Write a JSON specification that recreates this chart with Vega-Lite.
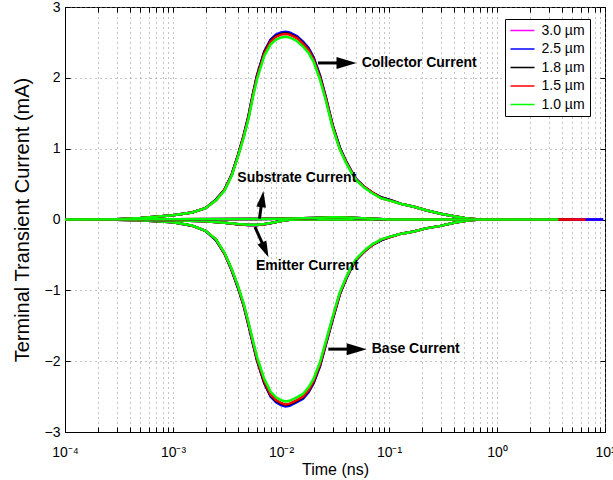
{
  "$schema": "https://vega.github.io/schema/vega-lite/v6.json",
  "width": 540,
  "height": 425,
  "autosize": {"type": "none"},
  "padding": {"left": 65, "top": 7, "right": 8, "bottom": 48},
  "config": {
    "font": "Liberation Sans",
    "view": {"stroke": "#000", "strokeWidth": 1},
    "axis": {
      "domainColor": "#000", "tickColor": "#000", "labelColor": "#000", "titleColor": "#000",
      "labelFont": "Liberation Sans", "titleFont": "Liberation Sans",
      "labelFontSize": 14, "titleFontSize": 16, "titleFontWeight": "normal",
      "gridColor": "#888", "gridDash": [1, 4], "gridWidth": 1, "gridOpacity": 1,
      "tickSize": -5, "labelFlush": false, "labelOverlap": false, "labelBound": false
    }
  },
  "datasets": {
    "curves": [
      {"c":"C","t":0.0001,"a":0,"b":0,"k":0,"r":0,"g":0},
      {"c":"C","t":0.0003,"a":0.005,"b":0.005,"k":0.005,"r":0.005,"g":0.005},
      {"c":"C","t":0.0005,"a":0.02,"b":0.02,"k":0.02,"r":0.02,"g":0.02},
      {"c":"C","t":0.001,"a":0.06,"b":0.06,"k":0.06,"r":0.06,"g":0.06},
      {"c":"C","t":0.0015,"a":0.10,"b":0.10,"k":0.10,"r":0.10,"g":0.10},
      {"c":"C","t":0.002,"a":0.16,"b":0.16,"k":0.16,"r":0.16,"g":0.16},
      {"c":"C","t":0.0025,"a":0.28,"b":0.28,"k":0.28,"r":0.27,"g":0.27},
      {"c":"C","t":0.003,"a":0.42,"b":0.42,"k":0.42,"r":0.42,"g":0.41},
      {"c":"C","t":0.0035,"a":0.64,"b":0.64,"k":0.63,"r":0.63,"g":0.62},
      {"c":"C","t":0.004,"a":0.91,"b":0.91,"k":0.91,"r":0.90,"g":0.89},
      {"c":"C","t":0.0045,"a":1.18,"b":1.18,"k":1.17,"r":1.17,"g":1.15},
      {"c":"C","t":0.005,"a":1.46,"b":1.46,"k":1.45,"r":1.44,"g":1.42},
      {"c":"C","t":0.0055,"a":1.77,"b":1.78,"k":1.76,"r":1.76,"g":1.73},
      {"c":"C","t":0.006,"a":2.03,"b":2.04,"k":2.02,"r":2.01,"g":1.98},
      {"c":"C","t":0.007,"a":2.37,"b":2.37,"k":2.36,"r":2.34,"g":2.31},
      {"c":"C","t":0.008,"a":2.53,"b":2.54,"k":2.52,"r":2.51,"g":2.47},
      {"c":"C","t":0.009,"a":2.60,"b":2.61,"k":2.59,"r":2.58,"g":2.54},
      {"c":"C","t":0.01,"a":2.63,"b":2.64,"k":2.62,"r":2.61,"g":2.57},
      {"c":"C","t":0.011,"a":2.64,"b":2.65,"k":2.63,"r":2.62,"g":2.58},
      {"c":"C","t":0.012,"a":2.63,"b":2.64,"k":2.62,"r":2.61,"g":2.57},
      {"c":"C","t":0.014,"a":2.58,"b":2.59,"k":2.57,"r":2.56,"g":2.52},
      {"c":"C","t":0.016,"a":2.50,"b":2.51,"k":2.49,"r":2.48,"g":2.44},
      {"c":"C","t":0.018,"a":2.41,"b":2.42,"k":2.40,"r":2.39,"g":2.35},
      {"c":"C","t":0.02,"a":2.29,"b":2.29,"k":2.27,"r":2.26,"g":2.23},
      {"c":"C","t":0.023,"a":2.02,"b":2.03,"k":2.01,"r":2.00,"g":1.97},
      {"c":"C","t":0.026,"a":1.72,"b":1.73,"k":1.71,"r":1.71,"g":1.68},
      {"c":"C","t":0.03,"a":1.33,"b":1.34,"k":1.33,"r":1.32,"g":1.30},
      {"c":"C","t":0.035,"a":1.01,"b":1.02,"k":1.01,"r":1.00,"g":0.99},
      {"c":"C","t":0.04,"a":0.82,"b":0.82,"k":0.82,"r":0.81,"g":0.80},
      {"c":"C","t":0.045,"a":0.68,"b":0.68,"k":0.67,"r":0.67,"g":0.66},
      {"c":"C","t":0.05,"a":0.56,"b":0.57,"k":0.56,"r":0.56,"g":0.55},
      {"c":"C","t":0.06,"a":0.45,"b":0.45,"k":0.45,"r":0.45,"g":0.44},
      {"c":"C","t":0.07,"a":0.38,"b":0.38,"k":0.38,"r":0.38,"g":0.37},
      {"c":"C","t":0.085,"a":0.31,"b":0.31,"k":0.31,"r":0.30,"g":0.30},
      {"c":"C","t":0.1,"a":0.28,"b":0.28,"k":0.28,"r":0.27,"g":0.27},
      {"c":"C","t":0.13,"a":0.22,"b":0.22,"k":0.22,"r":0.22,"g":0.22},
      {"c":"C","t":0.17,"a":0.18,"b":0.18,"k":0.18,"r":0.18,"g":0.18},
      {"c":"C","t":0.22,"a":0.13,"b":0.13,"k":0.13,"r":0.13,"g":0.13},
      {"c":"C","t":0.3,"a":0.08,"b":0.08,"k":0.08,"r":0.08,"g":0.08},
      {"c":"C","t":0.4,"a":0.045,"b":0.045,"k":0.045,"r":0.045,"g":0.045},
      {"c":"C","t":0.5,"a":0.02,"b":0.02,"k":0.02,"r":0.02,"g":0.02},
      {"c":"C","t":0.6,"a":0.008,"b":0.008,"k":0.008,"r":0.008,"g":0.008},
      {"c":"C","t":0.7,"a":0,"b":0,"k":0,"r":0,"g":0},
      {"c":"C","t":3.7,"a":0,"b":0,"k":0,"r":0,"g":0},
      {"c":"C","t":5,"a":0,"b":0,"k":0,"r":0,"g":null},
      {"c":"C","t":6.6,"a":0,"b":0,"k":null,"r":0,"g":null},
      {"c":"C","t":9.5,"a":0,"b":0,"k":null,"r":null,"g":null},
      {"c":"C","t":9.6,"a":null,"b":0,"k":null,"r":null,"g":null},

      {"c":"B","t":0.0001,"a":0,"b":0,"k":0,"r":0,"g":0},
      {"c":"B","t":0.0003,"a":-0.005,"b":-0.005,"k":-0.005,"r":-0.005,"g":-0.005},
      {"c":"B","t":0.0005,"a":-0.01,"b":-0.01,"k":-0.01,"r":-0.01,"g":-0.01},
      {"c":"B","t":0.001,"a":-0.04,"b":-0.04,"k":-0.04,"r":-0.04,"g":-0.04},
      {"c":"B","t":0.0015,"a":-0.087,"b":-0.087,"k":-0.087,"r":-0.086,"g":-0.085},
      {"c":"B","t":0.002,"a":-0.16,"b":-0.16,"k":-0.16,"r":-0.16,"g":-0.16},
      {"c":"B","t":0.0025,"a":-0.29,"b":-0.29,"k":-0.29,"r":-0.28,"g":-0.28},
      {"c":"B","t":0.003,"a":-0.48,"b":-0.48,"k":-0.48,"r":-0.48,"g":-0.47},
      {"c":"B","t":0.0035,"a":-0.72,"b":-0.72,"k":-0.71,"r":-0.71,"g":-0.70},
      {"c":"B","t":0.004,"a":-0.96,"b":-0.97,"k":-0.96,"r":-0.95,"g":-0.94},
      {"c":"B","t":0.0045,"a":-1.21,"b":-1.21,"k":-1.20,"r":-1.20,"g":-1.18},
      {"c":"B","t":0.005,"a":-1.49,"b":-1.49,"k":-1.48,"r":-1.47,"g":-1.45},
      {"c":"B","t":0.0055,"a":-1.75,"b":-1.76,"k":-1.74,"r":-1.74,"g":-1.71},
      {"c":"B","t":0.006,"a":-1.99,"b":-1.99,"k":-1.98,"r":-1.97,"g":-1.94},
      {"c":"B","t":0.007,"a":-2.31,"b":-2.31,"k":-2.30,"r":-2.28,"g":-2.25},
      {"c":"B","t":0.008,"a":-2.49,"b":-2.50,"k":-2.48,"r":-2.47,"g":-2.43},
      {"c":"B","t":0.009,"a":-2.57,"b":-2.58,"k":-2.56,"r":-2.55,"g":-2.51},
      {"c":"B","t":0.01,"a":-2.61,"b":-2.62,"k":-2.60,"r":-2.59,"g":-2.55},
      {"c":"B","t":0.011,"a":-2.63,"b":-2.64,"k":-2.62,"r":-2.61,"g":-2.57},
      {"c":"B","t":0.012,"a":-2.62,"b":-2.63,"k":-2.61,"r":-2.60,"g":-2.56},
      {"c":"B","t":0.014,"a":-2.57,"b":-2.58,"k":-2.56,"r":-2.55,"g":-2.51},
      {"c":"B","t":0.016,"a":-2.52,"b":-2.53,"k":-2.51,"r":-2.50,"g":-2.46},
      {"c":"B","t":0.018,"a":-2.43,"b":-2.44,"k":-2.42,"r":-2.41,"g":-2.37},
      {"c":"B","t":0.02,"a":-2.31,"b":-2.31,"k":-2.30,"r":-2.28,"g":-2.25},
      {"c":"B","t":0.023,"a":-2.06,"b":-2.07,"k":-2.05,"r":-2.04,"g":-2.01},
      {"c":"B","t":0.026,"a":-1.76,"b":-1.77,"k":-1.75,"r":-1.75,"g":-1.72},
      {"c":"B","t":0.03,"a":-1.41,"b":-1.42,"k":-1.41,"r":-1.40,"g":-1.38},
      {"c":"B","t":0.035,"a":-1.06,"b":-1.06,"k":-1.05,"r":-1.05,"g":-1.03},
      {"c":"B","t":0.04,"a":-0.84,"b":-0.84,"k":-0.84,"r":-0.83,"g":-0.82},
      {"c":"B","t":0.045,"a":-0.68,"b":-0.68,"k":-0.67,"r":-0.67,"g":-0.66},
      {"c":"B","t":0.05,"a":-0.56,"b":-0.57,"k":-0.56,"r":-0.56,"g":-0.55},
      {"c":"B","t":0.06,"a":-0.44,"b":-0.44,"k":-0.44,"r":-0.44,"g":-0.43},
      {"c":"B","t":0.07,"a":-0.36,"b":-0.36,"k":-0.36,"r":-0.36,"g":-0.35},
      {"c":"B","t":0.085,"a":-0.29,"b":-0.29,"k":-0.29,"r":-0.28,"g":-0.28},
      {"c":"B","t":0.1,"a":-0.25,"b":-0.25,"k":-0.25,"r":-0.25,"g":-0.245},
      {"c":"B","t":0.13,"a":-0.20,"b":-0.20,"k":-0.20,"r":-0.20,"g":-0.20},
      {"c":"B","t":0.17,"a":-0.17,"b":-0.17,"k":-0.17,"r":-0.17,"g":-0.17},
      {"c":"B","t":0.22,"a":-0.125,"b":-0.125,"k":-0.125,"r":-0.125,"g":-0.125},
      {"c":"B","t":0.3,"a":-0.09,"b":-0.09,"k":-0.09,"r":-0.09,"g":-0.09},
      {"c":"B","t":0.4,"a":-0.045,"b":-0.045,"k":-0.045,"r":-0.045,"g":-0.045},
      {"c":"B","t":0.5,"a":-0.02,"b":-0.02,"k":-0.02,"r":-0.02,"g":-0.02},
      {"c":"B","t":0.6,"a":-0.008,"b":-0.008,"k":-0.008,"r":-0.008,"g":-0.008},
      {"c":"B","t":0.7,"a":0,"b":0,"k":0,"r":0,"g":0},
      {"c":"B","t":3.7,"a":0,"b":0,"k":0,"r":0,"g":0},
      {"c":"B","t":5,"a":0,"b":0,"k":0,"r":0,"g":null},
      {"c":"B","t":6.6,"a":0,"b":0,"k":null,"r":0,"g":null},
      {"c":"B","t":9.5,"a":0,"b":0,"k":null,"r":null,"g":null},
      {"c":"B","t":9.6,"a":null,"b":0,"k":null,"r":null,"g":null},

      {"c":"E","t":0.0001,"a":0,"b":0,"k":0,"r":0,"g":0},
      {"c":"E","t":0.0004,"a":0,"b":0,"k":0,"r":0,"g":0},
      {"c":"E","t":0.001,"a":-0.01,"b":-0.01,"k":-0.01,"r":-0.01,"g":-0.01},
      {"c":"E","t":0.002,"a":-0.026,"b":-0.026,"k":-0.025,"r":-0.025,"g":-0.025},
      {"c":"E","t":0.003,"a":-0.047,"b":-0.047,"k":-0.046,"r":-0.046,"g":-0.045},
      {"c":"E","t":0.004,"a":-0.067,"b":-0.068,"k":-0.066,"r":-0.066,"g":-0.065},
      {"c":"E","t":0.005,"a":-0.078,"b":-0.079,"k":-0.077,"r":-0.076,"g":-0.075},
      {"c":"E","t":0.006,"a":-0.078,"b":-0.079,"k":-0.077,"r":-0.076,"g":-0.075},
      {"c":"E","t":0.007,"a":-0.067,"b":-0.068,"k":-0.066,"r":-0.066,"g":-0.065},
      {"c":"E","t":0.008,"a":-0.052,"b":-0.052,"k":-0.051,"r":-0.051,"g":-0.05},
      {"c":"E","t":0.009,"a":-0.036,"b":-0.036,"k":-0.036,"r":-0.035,"g":-0.035},
      {"c":"E","t":0.01,"a":-0.02,"b":-0.02,"k":-0.02,"r":-0.02,"g":-0.02},
      {"c":"E","t":0.012,"a":-0.005,"b":-0.005,"k":-0.005,"r":-0.005,"g":-0.005},
      {"c":"E","t":0.015,"a":0,"b":0,"k":0,"r":0,"g":0},
      {"c":"E","t":3.7,"a":0,"b":0,"k":0,"r":0,"g":0},
      {"c":"E","t":5,"a":0,"b":0,"k":0,"r":0,"g":null},
      {"c":"E","t":6.6,"a":0,"b":0,"k":null,"r":0,"g":null},
      {"c":"E","t":9.5,"a":0,"b":0,"k":null,"r":null,"g":null},
      {"c":"E","t":9.6,"a":null,"b":0,"k":null,"r":null,"g":null},

      {"c":"S","t":0.0001,"a":0,"b":0,"k":0,"r":0,"g":0},
      {"c":"S","t":0.001,"a":0.003,"b":0.003,"k":0.003,"r":0.003,"g":0.003},
      {"c":"S","t":0.005,"a":0.008,"b":0.008,"k":0.008,"r":0.008,"g":0.008},
      {"c":"S","t":0.01,"a":0.01,"b":0.01,"k":0.01,"r":0.01,"g":0.01},
      {"c":"S","t":0.02,"a":0.021,"b":0.021,"k":0.02,"r":0.02,"g":0.02},
      {"c":"S","t":0.03,"a":0.031,"b":0.031,"k":0.03,"r":0.03,"g":0.03},
      {"c":"S","t":0.04,"a":0.029,"b":0.029,"k":0.028,"r":0.028,"g":0.028},
      {"c":"S","t":0.05,"a":0.021,"b":0.021,"k":0.02,"r":0.02,"g":0.02},
      {"c":"S","t":0.07,"a":0.01,"b":0.01,"k":0.01,"r":0.01,"g":0.01},
      {"c":"S","t":0.1,"a":0,"b":0,"k":0,"r":0,"g":0},
      {"c":"S","t":3.7,"a":0,"b":0,"k":0,"r":0,"g":0},
      {"c":"S","t":5,"a":0,"b":0,"k":0,"r":0,"g":null},
      {"c":"S","t":6.6,"a":0,"b":0,"k":null,"r":0,"g":null},
      {"c":"S","t":9.5,"a":0,"b":0,"k":null,"r":null,"g":null},
      {"c":"S","t":9.6,"a":null,"b":0,"k":null,"r":null,"g":null}
    ],
    "labels": [
      {"text": "Collector Current", "t": 0.0558, "v": 2.21},
      {"text": "Base Current", "t": 0.0692, "v": -1.83},
      {"text": "Substrate Current", "t": 0.00394, "v": 0.58},
      {"text": "Emitter Current", "t": 0.00587, "v": -0.66}
    ],
    "shafts": [
      {"arrow": "collector", "t1": 0.022, "v1": 2.21, "t2": 0.036, "v2": 2.21},
      {"arrow": "base", "t1": 0.0274, "v1": -1.83, "t2": 0.044, "v2": -1.83},
      {"arrow": "substrate", "t1": 0.00632, "v1": 0.01, "t2": 0.0066, "v2": 0.225},
      {"arrow": "emitter", "t1": 0.00574, "v1": -0.106, "t2": 0.00687, "v2": -0.37}
    ],
    "heads": [
      {"arrow": "collector", "t": 0.0404, "v": 2.21},
      {"arrow": "base", "t": 0.0502, "v": -1.83},
      {"arrow": "substrate", "t": 0.00671, "v": 0.288},
      {"arrow": "emitter", "t": 0.00714, "v": -0.428}
    ]
  },
  "resolve": {"axis": {"x": "independent", "y": "independent"}},
  "layer": [
    {
      "data": {"name": "curves"},
      "transform": [
        {"fold": ["a", "b", "k", "r", "g"], "as": ["size", "v"]},
        {"filter": "isValid(datum.v)"}
      ],
      "mark": {"type": "line", "strokeWidth": 2.5, "clip": true},
      "encoding": {
        "x": {
          "field": "t", "type": "quantitative",
          "scale": {"type": "log", "domain": [0.0001, 10], "nice": false},
          "axis": {
            "title": "Time (ns)", "titlePadding": 2,
            "values": [0.0001,0.0002,0.0003,0.0004,0.0005,0.0006,0.0007,0.0008,0.0009,0.001,0.002,0.003,0.004,0.005,0.006,0.007,0.008,0.009,0.01,0.02,0.03,0.04,0.05,0.06,0.07,0.08,0.09,0.1,0.2,0.3,0.4,0.5,0.6,0.7,0.8,0.9,1,2,3,4,5,6,7,8,9,10],
            "labelExpr": "datum.value == 0.0001 ? '10⁻⁴' : datum.value == 0.001 ? '10⁻³' : datum.value == 0.01 ? '10⁻²' : datum.value == 0.1 ? '10⁻¹' : datum.value == 1 ? '10⁰' : datum.value == 10 ? '10¹' : ''",
            "labelPadding": 18, "grid": true
          }
        },
        "y": {
          "field": "v", "type": "quantitative",
          "scale": {"domain": [-3, 3], "nice": false},
          "axis": {
            "title": "Terminal Transient Current (mA)", "titleFontSize": 20, "values": [-3, -2, -1, 0, 1, 2, 3],
            "labelPadding": 10, "titlePadding": 12, "grid": true
          }
        },
        "color": {
          "field": "size", "type": "nominal",
          "scale": {"domain": ["a", "b", "k", "r", "g"], "range": ["#ff00ff", "#0000ff", "#000000", "#ff0000", "#00ff00"]},
          "legend": {
            "title": null, "orient": "none", "legendX": 440, "legendY": 12, "direction": "vertical",
            "symbolType": "stroke", "symbolSize": 576, "symbolStrokeWidth": 1.5,
            "labelFontSize": 14, "labelColor": "#000", "labelOffset": 6, "rowPadding": 4.5, "clipHeight": 14,
            "padding": 4.5, "strokeColor": "#000", "fillColor": "#fff", "cornerRadius": 0,
            "labelExpr": "datum.value == 'a' ? '3.0 µm' : datum.value == 'b' ? '2.5 µm' : datum.value == 'k' ? '1.8 µm' : datum.value == 'r' ? '1.5 µm' : '1.0 µm'"
          }
        },
        "detail": {"field": "c"}
      }
    },
    {
      "data": {"name": "shafts"},
      "mark": {"type": "rule", "color": "#000", "strokeWidth": 3},
      "encoding": {
        "x": {"field": "t1", "type": "quantitative", "scale": {"type": "log", "domain": [0.0001, 10], "nice": false}, "axis": null},
        "y": {"field": "v1", "type": "quantitative", "scale": {"domain": [-3, 3], "nice": false}, "axis": null},
        "x2": {"field": "t2"},
        "y2": {"field": "v2"}
      }
    },
    {
      "data": {"name": "heads"},
      "transform": [{"filter": "datum.arrow == 'collector' || datum.arrow == 'base'"}],
      "mark": {"type": "point", "shape": "M-1,-0.6L1,0L-1,0.6Z", "size": 400, "filled": true, "color": "#000", "opacity": 1},
      "encoding": {
        "x": {"field": "t", "type": "quantitative", "scale": {"type": "log", "domain": [0.0001, 10], "nice": false}, "axis": null},
        "y": {"field": "v", "type": "quantitative", "scale": {"domain": [-3, 3], "nice": false}, "axis": null}
      }
    },
    {
      "data": {"name": "heads"},
      "transform": [{"filter": "datum.arrow == 'substrate'"}],
      "mark": {"type": "point", "shape": "M-1,-0.6L1,0L-1,0.6Z", "size": 260, "filled": true, "color": "#000", "opacity": 1, "angle": -82},
      "encoding": {
        "x": {"field": "t", "type": "quantitative", "scale": {"type": "log", "domain": [0.0001, 10], "nice": false}, "axis": null},
        "y": {"field": "v", "type": "quantitative", "scale": {"domain": [-3, 3], "nice": false}, "axis": null}
      }
    },
    {
      "data": {"name": "heads"},
      "transform": [{"filter": "datum.arrow == 'emitter'"}],
      "mark": {"type": "point", "shape": "M-1,-0.6L1,0L-1,0.6Z", "size": 260, "filled": true, "color": "#000", "opacity": 1, "angle": 66},
      "encoding": {
        "x": {"field": "t", "type": "quantitative", "scale": {"type": "log", "domain": [0.0001, 10], "nice": false}, "axis": null},
        "y": {"field": "v", "type": "quantitative", "scale": {"domain": [-3, 3], "nice": false}, "axis": null}
      }
    },
    {
      "data": {"name": "labels"},
      "mark": {"type": "text", "font": "Liberation Sans", "fontWeight": "bold", "fontSize": 14, "align": "left", "baseline": "middle", "color": "#000"},
      "encoding": {
        "x": {
          "field": "t", "type": "quantitative", "scale": {"type": "log", "domain": [0.0001, 10], "nice": false},
          "axis": {"orient": "top", "labels": false, "title": null, "grid": false, "domain": false,
            "values": [0.0001,0.0002,0.0003,0.0004,0.0005,0.0006,0.0007,0.0008,0.0009,0.001,0.002,0.003,0.004,0.005,0.006,0.007,0.008,0.009,0.01,0.02,0.03,0.04,0.05,0.06,0.07,0.08,0.09,0.1,0.2,0.3,0.4,0.5,0.6,0.7,0.8,0.9,1,2,3,4,5,6,7,8,9,10]}
        },
        "y": {
          "field": "v", "type": "quantitative", "scale": {"domain": [-3, 3], "nice": false},
          "axis": {"orient": "right", "labels": false, "title": null, "grid": false, "domain": false, "values": [-3, -2, -1, 0, 1, 2, 3]}
        },
        "text": {"field": "text"}
      }
    }
  ]
}
